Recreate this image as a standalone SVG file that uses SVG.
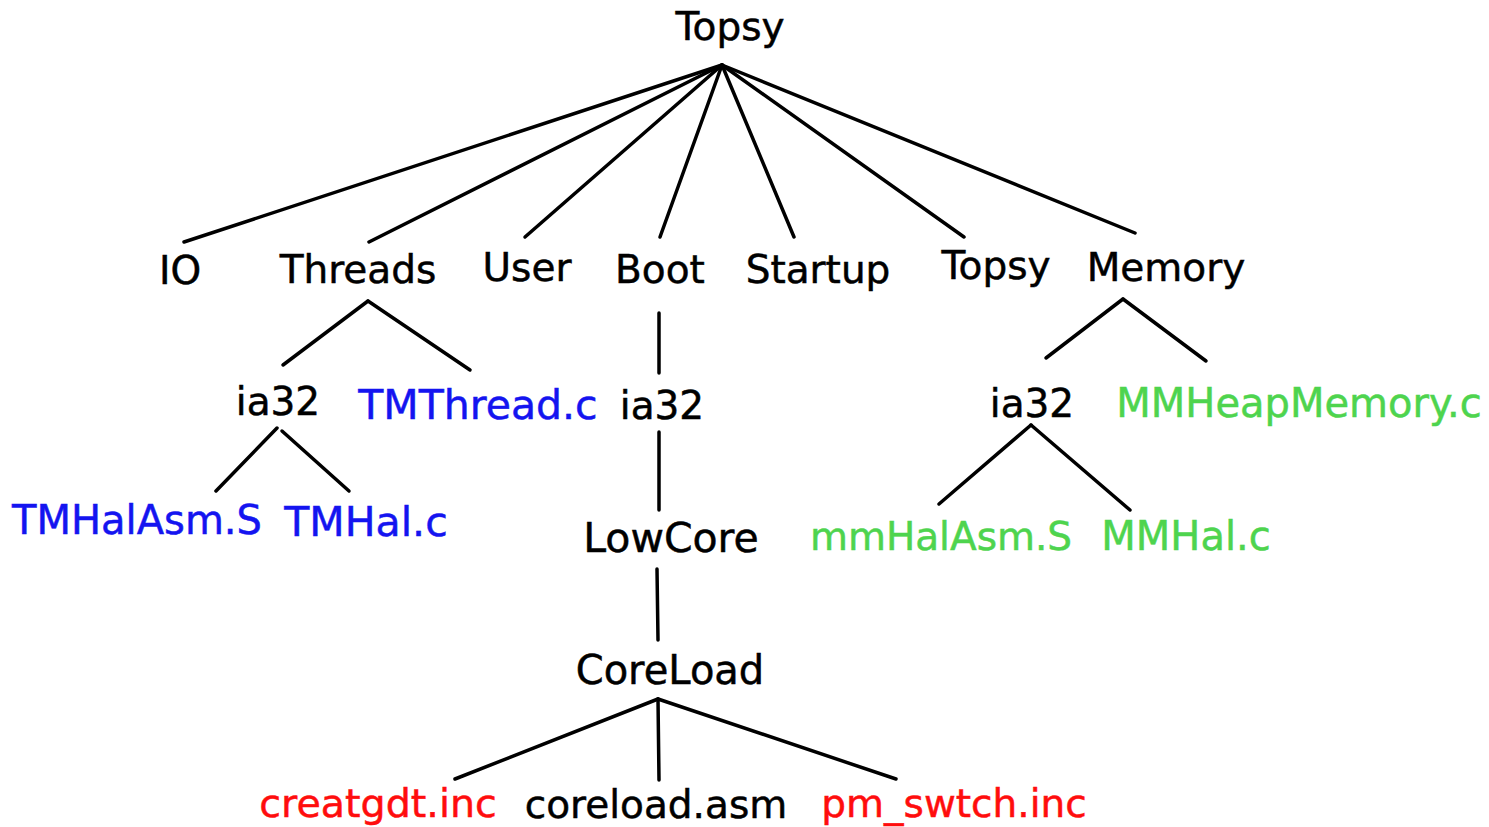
<svg xmlns="http://www.w3.org/2000/svg" width="1489" height="827" viewBox="0 0 1489 827">
<style>
text{font-family:"DejaVu Sans","Liberation Sans",sans-serif;font-size:39px;text-anchor:middle;stroke-width:0.5}
.k{fill:#000;stroke:#000}
.b{fill:#1414f0;stroke:#1414f0}
.g{fill:#4ed44e;stroke:#4ed44e}
.r{fill:#ff0d0d;stroke:#ff0d0d}
#edges line{stroke:#000;stroke-width:3.5;stroke-linecap:round}
</style>
<rect width="1489" height="827" fill="#fff"/>
<g id="edges">
<line x1="722" y1="65" x2="184" y2="242"/>
<line x1="722" y1="65" x2="369" y2="242"/>
<line x1="722" y1="65" x2="525" y2="237"/>
<line x1="722" y1="65" x2="660" y2="237"/>
<line x1="722" y1="65" x2="794" y2="237"/>
<line x1="722" y1="65" x2="964" y2="237"/>
<line x1="722" y1="65" x2="1135" y2="233"/>
<line x1="368" y1="301" x2="283" y2="365"/>
<line x1="368" y1="301" x2="470" y2="370"/>
<line x1="277" y1="428" x2="216" y2="491"/>
<line x1="282" y1="431" x2="349" y2="491"/>
<line x1="659" y1="313" x2="659" y2="373"/>
<line x1="659" y1="432" x2="659" y2="510"/>
<line x1="657" y1="569" x2="658" y2="640"/>
<line x1="658" y1="699" x2="455" y2="779"/>
<line x1="658" y1="699" x2="659" y2="780"/>
<line x1="658" y1="699" x2="896" y2="779"/>
<line x1="1123" y1="299" x2="1046" y2="358"/>
<line x1="1123" y1="299" x2="1206" y2="361"/>
<line x1="1031" y1="425" x2="939" y2="504"/>
<line x1="1031" y1="425" x2="1130" y2="510"/>
</g>
<g id="n-topsy-root"><text class="k" x="730" y="40">Topsy</text></g>
<g id="n-io"><text class="k" x="180" y="284">IO</text></g>
<g id="n-threads"><text class="k" x="358" y="283">Threads</text></g>
<g id="n-user"><text class="k" x="527" y="281">User</text></g>
<g id="n-boot"><text class="k" x="660" y="283">Boot</text></g>
<g id="n-startup"><text class="k" x="818" y="283">Startup</text></g>
<g id="n-topsy"><text class="k" x="996" y="279">Topsy</text></g>
<g id="n-memory"><text class="k" x="1166" y="281">Memory</text></g>
<g id="n-ia32-threads"><text class="k" x="278" y="415">ia32</text></g>
<g id="n-tmthread"><text class="b" x="478" y="419" style="font-size:41px">TMThread.c</text></g>
<g id="n-ia32-boot"><text class="k" x="662" y="419">ia32</text></g>
<g id="n-ia32-memory"><text class="k" x="1032" y="417">ia32</text></g>
<g id="n-mmheap"><text class="g" x="1299" y="417" style="font-size:40px">MMHeapMemory.c</text></g>
<g id="n-tmhalasm"><text class="b" x="137" y="534" style="font-size:40px">TMHalAsm.S</text></g>
<g id="n-tmhal"><text class="b" x="366" y="536" style="font-size:41px">TMHal.c</text></g>
<g id="n-lowcore"><text class="k" x="671" y="552" style="font-size:41px">LowCore</text></g>
<g id="n-mmhalasm"><text class="g" x="941" y="550">mmHalAsm.S</text></g>
<g id="n-mmhal"><text class="g" x="1186" y="550" style="font-size:40px">MMHal.c</text></g>
<g id="n-coreload"><text class="k" x="670" y="684" style="font-size:40px">CoreLoad</text></g>
<g id="n-creatgdt"><text class="r" x="378" y="817" style="font-size:39.6px">creatgdt.inc</text></g>
<g id="n-coreloadasm"><text class="k" x="656" y="818">coreload.asm</text></g>
<g id="n-pmswtch"><text class="r" x="954" y="817">pm_swtch.inc</text></g>
</svg>
